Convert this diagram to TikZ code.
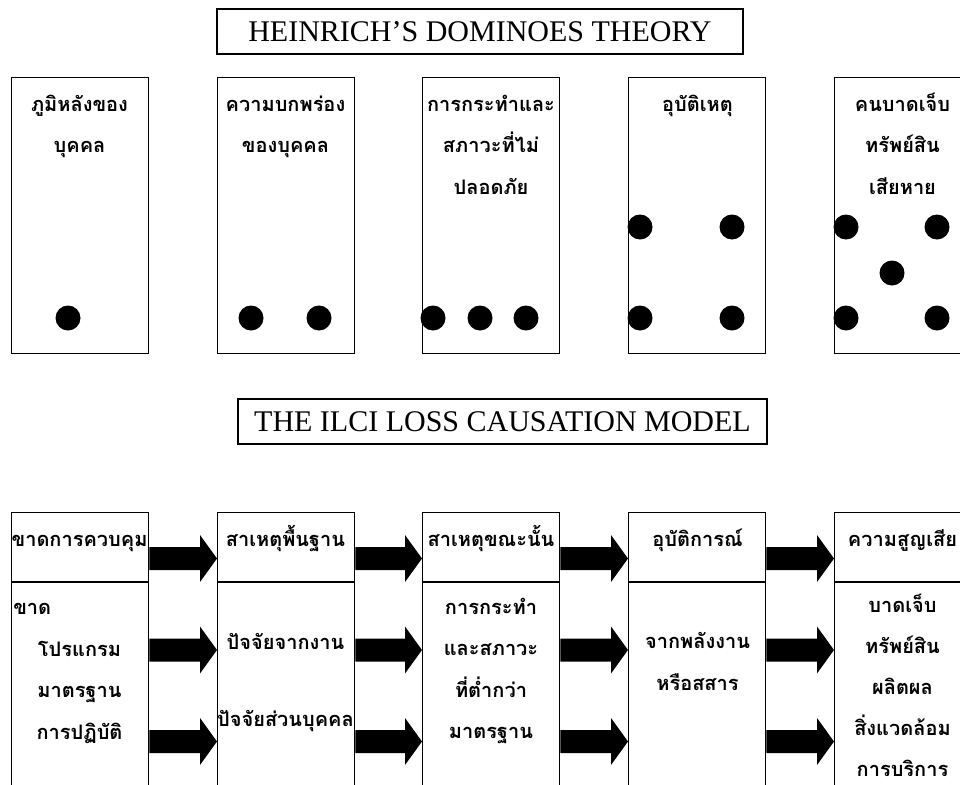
\documentclass[tikz,border=0pt]{standalone}
\usepackage{fontspec}
\setmainfont{Liberation Serif}
\newfontfamily\thaifont[Script=Thai]{Loma}
\usetikzlibrary{calc}
\newcommand\blockarrow[3]{%
  \path (#1.east |- 0,#3) coordinate (s) (#2.west |- 0,#3) coordinate (t);
  \fill[arrowfill] ($(s)+(0,-11.5)$) -- ($(t)+(-17,-11.5)$) -- ($(t)+(-17,-23.5)$) -- (t)
     -- ($(t)+(-17,23.5)$) -- ($(t)+(-17,11.5)$) -- ($(s)+(0,11.5)$) -- cycle;}
\tikzset{
  domino/.style={draw, line width=1.1pt, inner sep=0, anchor=north west,
     minimum width=102.75pt, minimum height=207pt},
  ilci/.style={draw, line width=1.1pt, inner sep=0, anchor=north west,
     minimum width=102.75pt, minimum height=216pt},
  ttl/.style={draw, line width=1.1pt, inner sep=0,
     font=\fontsize{22.5}{27}\selectfont},
  th/.style={font=\thaifont\bfseries\fontsize{15}{31.1}\selectfont, align=center,
     anchor=base, inner sep=0},
  dot/.style={circle, fill=black, inner sep=0, minimum size=18.75pt},
  arrowfill/.style={fill=black},
  divider/.style={line width=1.1pt}
}
\begin{document}
\begin{tikzpicture}[x=0.75pt,y=-0.75pt]
\useasboundingbox (0,0) rectangle (960,785);
\clip (0,0) rectangle (960,785);
% ---------- Heinrich ----------
\node[ttl, minimum width=394.5pt, minimum height=33.75pt] (t1) at (480,31.5) {HEINRICH’S DOMINOES THEORY};
\node[domino] (d1) at (11,77) {};
\node[domino] (d2) at (217,77) {};
\node[domino] (d3) at (422,77) {};
\node[domino] (d4) at (628,77) {};
\node[domino] (d5) at (834,77) {};
% multi-line nodes: base anchor = baseline of the last line
\node[th] (d1t) at (79.5,152.5) {ภูมิหลังของ\\บุคคล};
\node[th] (d2t) at (285.5,152.5) {ความบกพร่อง\\ของบุคคล};
\node[th] (d3t) at (491,194) {การกระทำและ\\สภาวะที่ไม่\\ปลอดภัย};
\node[th] (d4t) at (697.5,111) {อุบัติเหตุ};
\node[th] (d5t) at (902.5,194) {คนบาดเจ็บ\\ทรัพย์สิน\\เสียหาย};
\node[dot] (p11) at (68,318) {};
\node[dot] (p21) at (251,318) {};
\node[dot] (p22) at (319,318) {};
\node[dot] (p31) at (433,318) {};
\node[dot] (p32) at (480,318) {};
\node[dot] (p33) at (526,318) {};
\node[dot] (p41) at (640,227) {};
\node[dot] (p42) at (732,227) {};
\node[dot] (p43) at (640,318) {};
\node[dot] (p44) at (732,318) {};
\node[dot] (p51) at (846,227) {};
\node[dot] (p52) at (937,227) {};
\node[dot] (p53) at (892,273) {};
\node[dot] (p54) at (846,318) {};
\node[dot] (p55) at (937,318) {};
% ---------- ILCI ----------
\node[ttl, minimum width=396.75pt, minimum height=33.75pt] (t2) at (502.5,421.5) {THE ILCI LOSS CAUSATION MODEL};
\node[ilci] (b1) at (11,512) {};
\node[ilci] (b2) at (217,512) {};
\node[ilci] (b3) at (422,512) {};
\node[ilci] (b4) at (628,512) {};
\node[ilci] (b5) at (834,512) {};
\foreach \b in {b1,b2,b3,b4,b5}{
  \draw[divider] (\b.north west) ++(0,70) -- ++(137,0);
}
\node[th] (h1) at (79.5,546) {ขาดการควบคุม};
\node[th] (h2) at (285.5,546) {สาเหตุพื้นฐาน};
\node[th] (h3) at (491,546) {สาเหตุขณะนั้น};
\node[th] (h4) at (697.5,546) {อุบัติการณ์};
\node[th] (h5) at (902.5,546) {ความสูญเสีย};
\node[th, anchor=base west] (c1a) at (13,614) {ขาด};
\node[th] (c1b) at (79.5,739) {โปรแกรม\\มาตรฐาน\\การปฏิบัติ};
\node[th] (c2a) at (285.5,649) {ปัจจัยจากงาน};
\node[th] (c2b) at (285.5,726) {ปัจจัยส่วนบุคคล};
\node[th] (c3) at (491,738.5) {การกระทำ\\และสภาวะ\\ที่ต่ำกว่า\\มาตรฐาน};
\node[th] (c4) at (697.5,690) {จากพลังงาน\\หรือสสาร};
\node[th, font=\thaifont\bfseries\fontsize{15}{30.6}\selectfont] (c5) at (902.5,776) {บาดเจ็บ\\ทรัพย์สิน\\ผลิตผล\\สิ่งแวดล้อม\\การบริการ};
\foreach \i/\j in {b1/b2,b2/b3,b3/b4,b4/b5}{
  \blockarrow{\i}{\j}{558.5}
  \blockarrow{\i}{\j}{650}
  \blockarrow{\i}{\j}{741.5}
}
\end{tikzpicture}
\end{document}
